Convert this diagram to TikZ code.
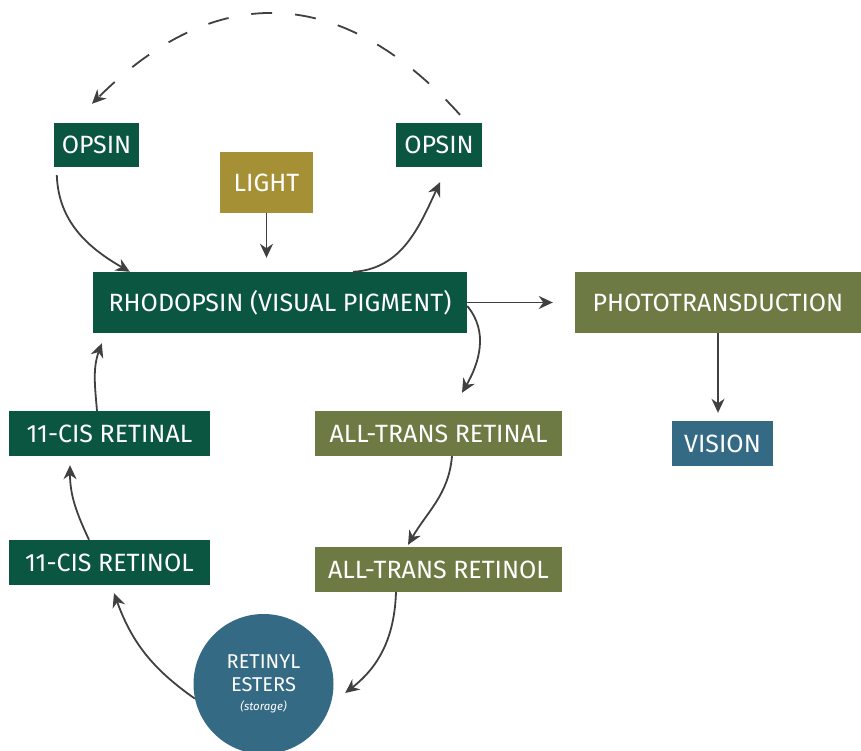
\documentclass[tikz,border=0pt]{standalone}
\usepackage{fontspec}
\setmainfont{Fira Sans}
\usetikzlibrary{arrows.meta}
\definecolor{dkgreen}{HTML}{0B5641}
\definecolor{olive}{HTML}{6E7A43}
\definecolor{gold}{HTML}{A69035}
\definecolor{steel}{HTML}{356A85}
\definecolor{arrowgray}{HTML}{404040}
\begin{document}
\begin{tikzpicture}[x=1pt,y=1pt,
  box/.style={rectangle, inner sep=0pt, text=white, font=\fontsize{25}{29}\selectfont},
  dg/.style={box, fill=dkgreen},
  ol/.style={box, fill=olive},
  conn/.style={draw=arrowgray, line width=1.8pt, -{Stealth[length=14pt,width=13pt,inset=4.5pt]}}
]
\useasboundingbox (0,0) rectangle (861,750);
\node[dg, minimum width=85pt, minimum height=44pt] (opsinL) at (96.5,605) {OPSIN};
\node[dg, minimum width=86pt, minimum height=44pt] (opsinR) at (439,605) {OPSIN};
\node[box, fill=gold, minimum width=93pt, minimum height=61pt] (light) at (266.5,567.5) {LIGHT};
\node[dg, minimum width=374pt, minimum height=61pt] (rhod) at (280,447.5) {RHODOPSIN (VISUAL PIGMENT)};
\node[ol, minimum width=286pt, minimum height=61pt] (photo) at (718,447.5) {PHOTOTRANSDUCTION};
\node[box, fill=steel, minimum width=101pt, minimum height=45pt] (vision) at (722.5,306.5) {VISION};
\node[dg, minimum width=201pt, minimum height=45pt] (cisal) at (109.5,316.5) {11-CIS RETINAL};
\node[ol, minimum width=247pt, minimum height=45pt] (transal) at (438.5,316.5) {ALL-TRANS RETINAL};
\node[dg, minimum width=201pt, minimum height=45pt] (cisol) at (109.5,187.5) {11-CIS RETINOL};
\node[ol, minimum width=247pt, minimum height=45pt] (transol) at (438.5,180.5) {ALL-TRANS RETINOL};
\node[circle, fill=steel, minimum size=140pt, inner sep=0pt, text=white, align=center,
      font=\fontsize{20}{23}\selectfont] (ester) at (263.5,66)
      {RETINYL\\ESTERS\\[-4pt]{\fontsize{11.5}{12}\selectfont\itshape (storage)}};
% connectors
\draw[conn] ([xshift=3pt,yshift=-8pt]opsinL.south west) to[out=-88,in=150] ([xshift=37pt]rhod.north west);
\draw[conn, shorten >=14pt] (light.south) -- ([xshift=-13.5pt]rhod.north);
\draw[conn] ([xshift=73pt]rhod.north) to[out=3,in=-115] ([xshift=1pt,yshift=-15pt]opsinR.south);
\draw[conn, dash pattern=on 21pt off 23pt]
  ([xshift=21pt,yshift=8pt]opsinR.north) .. controls (340,768) and (214,768) .. ([xshift=-4.5pt,yshift=19pt]opsinL.north);
\draw[conn, shorten >=22pt] (rhod.east) -- (photo.west);
\draw[conn] ([yshift=-3.5pt]rhod.east) to[out=-50,in=60] ([xshift=23.5pt,yshift=18pt]transal.north);
\draw[conn] ([xshift=13.5pt]transal.south) to[out=-95,in=60] ([xshift=-30.5pt,yshift=2pt]transol.north);
\draw[conn] ([xshift=-42.5pt]transol.south) to[out=-92,in=38] ([xshift=11.5pt,yshift=-9pt]ester.east);
\draw[conn] (ester.192) to[out=145,in=-70] ([xshift=4.5pt,yshift=-8pt]cisol.south);
\draw[conn] ([xshift=-20.5pt]cisol.north) to[out=115,in=-90] ([xshift=-39.5pt,yshift=-9pt]cisal.south);
\draw[conn] ([xshift=-12.5pt]cisal.north) to[out=95,in=-110] ([xshift=9pt,yshift=-10pt]rhod.south west);
\draw[conn, shorten >=8pt] (photo.south) -- (photo.south |- vision.north);
\end{tikzpicture}
\end{document}
